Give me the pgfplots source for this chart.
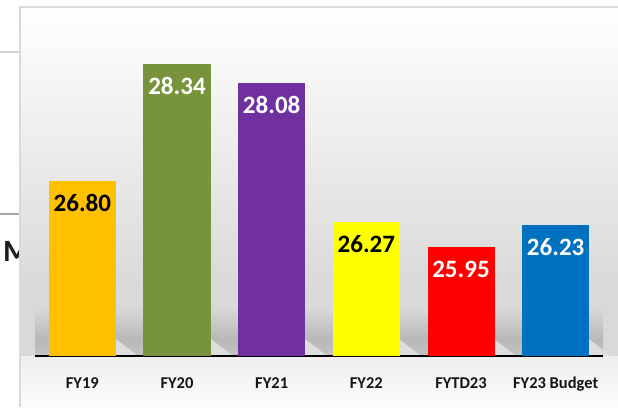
\documentclass[border=0pt]{standalone}
\usepackage{pgfplots}
\pgfplotsset{compat=1.18}
\usepackage{fontspec}
\setmainfont{Carlito}
\definecolor{c19}{HTML}{FFC000}
\definecolor{c20}{HTML}{77933C}
\definecolor{c21}{HTML}{7030A0}
\definecolor{c22}{HTML}{FFFF00}
\definecolor{c23}{HTML}{FF0000}
\definecolor{cbud}{HTML}{0070C0}
\definecolor{bgmid}{HTML}{D9D9D9}
\definecolor{shad}{HTML}{B8B8B8}
\definecolor{frame}{HTML}{D9D9D9}
\begin{document}
\begin{tikzpicture}[x=1pt,y=1pt]
\path[use as bounding box] (0,0) rectangle (618,407);
% left strip
\fill[white] (0,0) rectangle (20,407);
\draw[line width=1.5pt, color={rgb,255:red,208;green,208;blue,208}] (0,355) -- (20,355);
\draw[line width=1.5pt, color={rgb,255:red,166;green,166;blue,166}] (0,193) -- (20,193);
\begin{scope}
\clip (0,0) rectangle (20,407);
\node[anchor=base west, inner sep=0pt, font=\fontsize{31}{34}\selectfont\bfseries, text={rgb,255:red,30;green,30;blue,30}] at (3,145) {M};
\end{scope}
% chart area background
\shade[top color=white, bottom color=bgmid] (20,117) rectangle (618,400);
\fill[bgmid] (20,51) rectangle (618,117);
\shade[top color=bgmid, bottom color=shad] (35,67) rectangle (603,100);
\shade[top color=shad, bottom color={rgb,255:red,196;green,196;blue,196}] (35,51) rectangle (603,67);
% light triangles to the right of each bar
\foreach \xr in {116,211,305,399,494,589} {
  \fill[color={rgb,255:red,222;green,222;blue,222}] (\xr,51) -- (\xr,68) -- (\xr+22,51) -- cycle;
}
\shade[top color={rgb,255:red,238;green,238;blue,238}, bottom color={rgb,255:red,252;green,252;blue,252}] (20,0) rectangle (618,51);
% frame
\draw[line width=1.5pt, frame] (20,0) -- (20,400) -- (618,400);
\begin{axis}[
  at={(35pt,51pt)}, anchor=south west, scale only axis,
  width=568pt, height=343pt,
  xmin=-0.5, xmax=5.5, ymin=24.52, ymax=29.0,
  axis y line=none, axis x line*=bottom,
  x axis line style={-, black, line width=1.5pt},
  xtick={0,1,2,3,4,5},
  xticklabels={FY19,FY20,FY21,FY22,FYTD23,FY23 Budget},
  xtick style={draw=none},
  xticklabel style={font=\fontsize{16.5}{19}\selectfont\bfseries, anchor=base, yshift=-28pt, text={rgb,255:red,20;green,20;blue,20}},
  ybar, bar width=67pt, bar shift=0pt,
  point meta=explicit symbolic,
  nodes near coords,
  every node near coord/.append style={font=\fontsize{25}{28}\selectfont\bfseries, anchor=base, yshift=-30.5pt, inner sep=0pt},
  clip=false,
]
\addplot[fill=c19, draw=none, every node near coord/.append style={text=black}] coordinates {(0,26.80) [26.80]};
\addplot[fill=c20, draw=none, every node near coord/.append style={text=white}] coordinates {(1,28.34) [28.34]};
\addplot[fill=c21, draw=none, every node near coord/.append style={text=white}] coordinates {(2,28.08) [28.08]};
\addplot[fill=c22, draw=none, every node near coord/.append style={text=black}] coordinates {(3,26.27) [26.27]};
\addplot[fill=c23, draw=none, every node near coord/.append style={text=white}] coordinates {(4,25.95) [25.95]};
\addplot[fill=cbud, draw=none, every node near coord/.append style={text=white}] coordinates {(5,26.23) [26.23]};
\end{axis}
\end{tikzpicture}
\end{document}
